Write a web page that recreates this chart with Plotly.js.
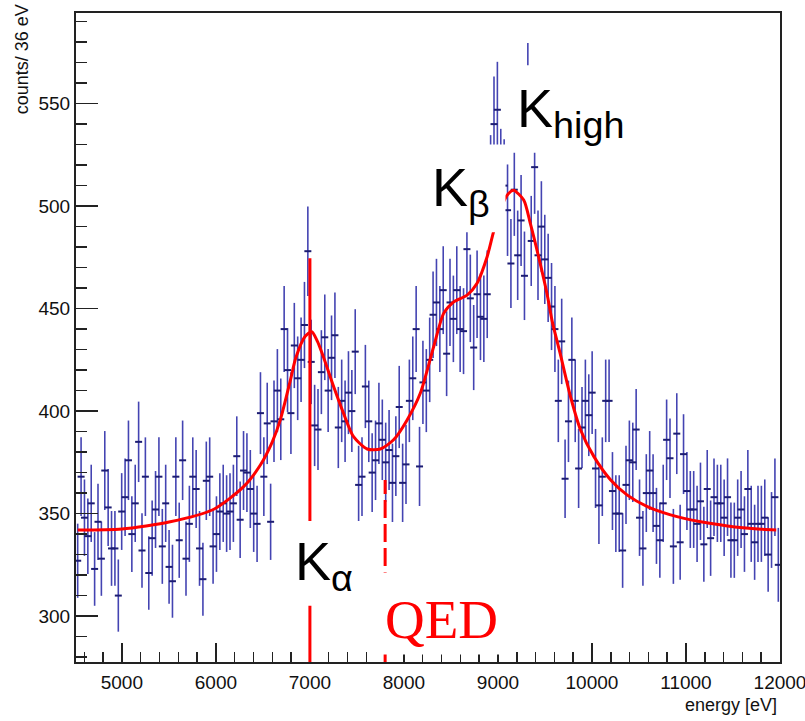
<!DOCTYPE html>
<html>
<head>
<meta charset="utf-8">
<script src="https://cdn.plot.ly/plotly-3.0.1.min.js"></script>
<style>html,body{margin:0;padding:0;background:#fff;}#chart{width:805px;height:721px;}</style>
</head>
<body>
<div id="chart"></div>
<script>
// Histogram: 36 eV bins, first bin centre 4530 eV
const binCentreStart = 4530;
const binWidth = 36;
const counts = [
  327, 368, 348, 339, 355, 323, 346, 328, 371, 353,
  333, 333, 310, 351, 358, 376, 340, 355, 385, 332,
  368, 321, 338, 352, 368, 334, 355, 324, 317, 368,
  337, 376, 328, 345, 368, 362, 333, 318, 366, 368,
  334, 340, 351, 355, 350, 351, 355, 378, 347, 371,
  370, 362, 350, 345, 399, 368, 394, 346, 395, 410,
  396, 440, 420, 399, 432, 416, 425, 442, 478, 424,
  393, 391, 419, 436, 410, 426, 437, 392, 405, 395,
  409, 400, 429, 364, 368, 412, 395, 370, 376, 394,
  386, 375, 381, 365, 378, 402, 365, 374, 405, 416,
  440, 373, 414, 410, 425, 447, 453, 440, 459, 428,
  453, 445, 459, 440, 439, 479, 455, 431, 457, 446,
  445, 457, 512, 540, 547, 515, 510, 498, 472, 508,
  476, 493, 466, 556, 483, 519, 476, 490, 474, 465,
  451, 440, 405, 434, 367, 395, 425, 405, 372, 392,
  405, 398, 409, 372, 354, 368, 405, 405, 361, 350,
  350, 332, 364, 376, 375, 391, 348, 333, 360, 371,
  360, 344, 337, 355, 386, 377, 334, 389, 336, 379,
  361, 352, 352, 345, 356, 335, 362, 338, 358, 355,
  355, 348, 358, 337, 337, 348, 352, 340, 362, 345,
  336, 345, 345, 348, 330, 342, 358, 325
];

// Fit curve
const fitEnergy = [4530, 5000, 5514, 5972, 6292, 6473, 6600, 6685, 6792, 6850,
  6950, 7020, 7080, 7143, 7252, 7357, 7464, 7609, 7750, 7890,
  8034, 8175, 8316, 8424, 8530, 8672, 8778, 8885, 8953, 9030,
  9110, 9164, 9274, 9345, 9434, 9523, 9576, 9666, 9772, 9879,
  10021, 10199, 10376, 10589, 10836, 11156, 11440, 11800, 11960];
const fitCounts = [342, 342.5, 346, 352, 363, 373.7, 385, 395.7, 415, 426,
  436.5, 438.7, 434, 426.5, 412, 399, 387.5, 381.5, 381.5, 386,
  395.7, 408.8, 431.4, 447.8, 453.3, 456.6, 462.4, 475.3, 487.4, 499,
  506, 507.7, 503, 491.5, 475, 457, 444, 427.3, 407, 390.8,
  377.8, 366.4, 359, 353.4, 349.4, 346, 344, 342.4, 342];

// Marker lines (K-alpha solid, QED dashed)
const markerEnergy = [7000, 7800];
const markerTop = [474.6, 366.4];

// Axis ranges
const xRange = [4512, 12000];
const yRange = [277.6, 594.2];

const dataTrace = {
  type: 'scatter', mode: 'markers',
  x0: binCentreStart, dx: binWidth, y: counts,
  marker: {symbol: 'line-ew', size: 5, line: {width: 2, color: '#1c1c72'}, color: '#1c1c72'},
  error_y: {type: 'sqrt', visible: true, color: '#4444b2', thickness: 1.6, width: 0},
  hoverinfo: 'skip'
};
const fitTrace = {
  type: 'scatter', mode: 'lines', x: fitEnergy, y: fitCounts,
  line: {color: '#ff0000', width: 3, shape: 'spline', smoothing: 0.7},
  hoverinfo: 'skip'
};

const red = '#ff0000';
const shapes = [
  {type: 'line', xref: 'x', yref: 'y', x0: markerEnergy[0], x1: markerEnergy[0], y0: yRange[0], y1: markerTop[0],
   line: {color: red, width: 3}, layer: 'above'},
  {type: 'line', xref: 'x', yref: 'y', x0: markerEnergy[1], x1: markerEnergy[1], y0: yRange[0], y1: markerTop[1],
   line: {color: red, width: 3, dash: '18px,6px'}, layer: 'above'},
  // white label backgrounds
  {type: 'rect', xref: 'x', yref: 'y', x0: 8260, x1: 9080, y0: 487.3, y1: 530, fillcolor: '#fff', line: {width: 0}, layer: 'above'},
  {type: 'rect', xref: 'x', yref: 'y', x0: 9080, x1: 10300, y0: 526, y1: 568.7, fillcolor: '#fff', line: {width: 0}, layer: 'above'},
  {type: 'rect', xref: 'x', yref: 'y', x0: 6717, x1: 7771, y0: 305, y1: 346.4, fillcolor: '#fff', line: {width: 0}, layer: 'above'},
  {type: 'rect', xref: 'x', yref: 'y', x0: 7750, x1: 9080, y0: 281.2, y1: 321.2, fillcolor: '#fff', line: {width: 0}, layer: 'above'}
];

const sans = 'Liberation Sans, Arial, Helvetica, sans-serif';
const labelFont = {family: sans, size: 54, color: '#000'};
const annotations = [
  {text: 'K<sub>high</sub>', xref: 'paper', yref: 'paper', x: 0.6236, y: 0.847, xanchor: 'left', yanchor: 'middle', showarrow: false, font: labelFont},
  {text: 'K<sub>β</sub>', xref: 'paper', yref: 'paper', x: 0.5028, y: 0.7252, xanchor: 'left', yanchor: 'middle', showarrow: false, font: labelFont},
  {text: 'K<sub>α</sub>', xref: 'paper', yref: 'paper', x: 0.3082, y: 0.1496, xanchor: 'left', yanchor: 'middle', showarrow: false, font: labelFont},
  {text: 'QED', xref: 'paper', yref: 'paper', x: 0.4361, y: 0.0662, xanchor: 'left', yanchor: 'middle', showarrow: false,
   font: {family: 'Liberation Serif, Times New Roman, serif', size: 55, color: red}},
  {text: 'energy [eV]', xref: 'paper', yref: 'paper', x: 0.9986, y: -0.0669, xanchor: 'right', yanchor: 'middle', showarrow: false,
   font: {family: sans, size: 18, color: '#111'}},
  {text: 'counts/ 36 eV', xref: 'paper', yref: 'paper', x: -0.0767, y: 1.0165, xanchor: 'center', yanchor: 'top', showarrow: false, textangle: -90,
   font: {family: sans, size: 18, color: '#111'}}
];

const axisCommon = {
  showline: true, linecolor: '#222', linewidth: 2, mirror: true,
  showgrid: false, zeroline: false, ticks: 'inside', tickcolor: '#222', tickwidth: 1.5,
  tickfont: {family: sans, size: 19, color: '#111'}, ticklabeloverflow: 'allow'
};

const layout = {
  width: 805, height: 721,
  margin: {l: 76, r: 25, t: 13, b: 59},
  paper_bgcolor: '#fff', plot_bgcolor: '#fff',
  showlegend: false,
  xaxis: Object.assign({}, axisCommon, {
    range: xRange, tick0: 5000, dtick: 1000, tickformat: 'd', ticklen: 19, ticklabelstandoff: 2,
    minor: {dtick: 200, tick0: 5000, ticks: 'inside', ticklen: 10, tickwidth: 1.5, tickcolor: '#222', showgrid: false}
  }),
  yaxis: Object.assign({}, axisCommon, {
    range: yRange, tick0: 300, dtick: 50, tickformat: 'd', ticklen: 22,
    minor: {dtick: 10, tick0: 300, ticks: 'inside', ticklen: 11, tickwidth: 1.5, tickcolor: '#222', showgrid: false}
  }),
  shapes: shapes,
  annotations: annotations
};

Plotly.newPlot('chart', [dataTrace, fitTrace], layout, {displayModeBar: false, staticPlot: true});
</script>
</body>
</html>
